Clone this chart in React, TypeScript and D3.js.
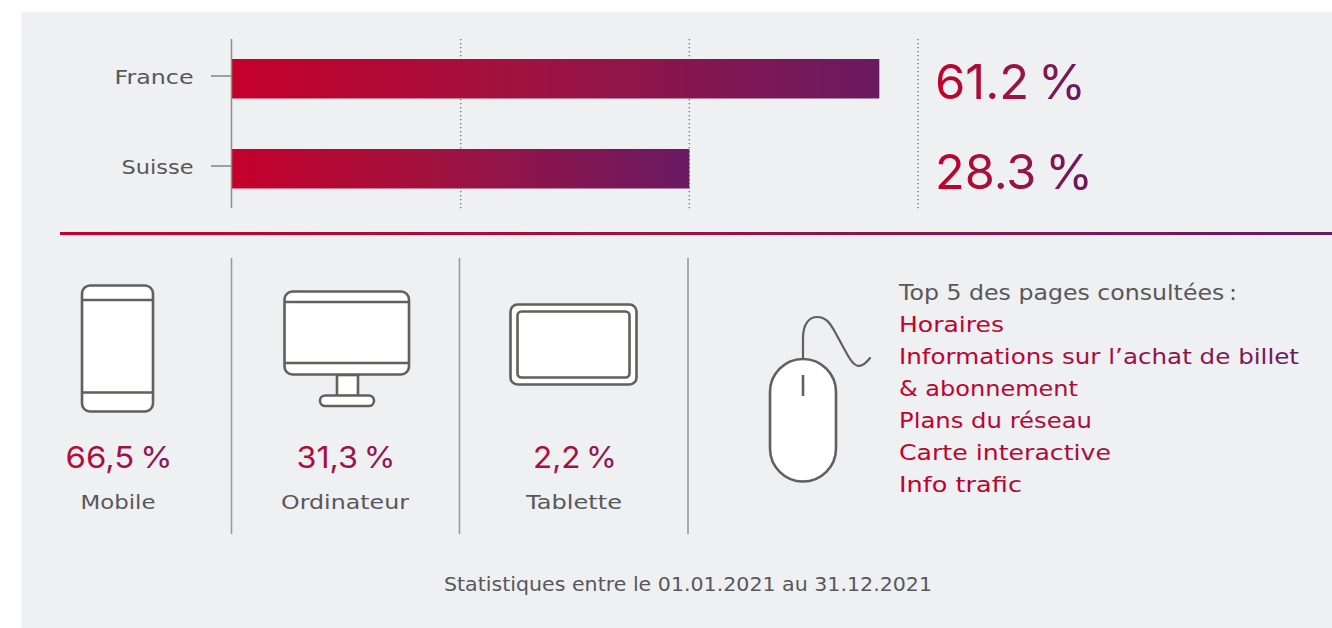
import * as d3 from "d3";

// Audience by country
const countries = ["France", "Suisse"];
const countryShares = [61.2, 28.3];
const shareLabels = ["61.2\u2009%", "28.3\u2009%"];
const axisStart = -51;
const axisEnd = 67.9;
const gridValues = [-11.3, 28.3, 67.9];

// Audience by device
const devices = ["Mobile", "Ordinateur", "Tablette"];
const deviceLabels = ["66,5\u2009%", "31,3\u2009%", "2,2\u2009%"];

// Most visited pages
const pagesTitle = "Top 5 des pages consultées\u2009:";
const pages = [
  "Horaires",
  "Informations sur l’achat de billet",
  "& abonnement",
  "Plans du réseau",
  "Carte interactive",
  "Info trafic",
];
const footnote = "Statistiques entre le 01.01.2021 au 31.12.2021";

const FONT = "'DejaVu Sans', 'Noto Sans', sans-serif";
const NUMERALS = "Inter, 'Noto Sans', sans-serif";
const GREY = "#58585a";
const ICON = "#625f5c";
const RED = "#c4002b";
const MID = "#a0123f";
const PURPLE = "#691a62";

const x = d3.scaleLinear().domain([axisStart, axisEnd]).range([231.5, 918]);
const y = d3.scalePoint<string>().domain(countries).range([59, 149]);
const barHeight = 39.5;

const labelWidths = [79, 72];
const shareWidths = [151, 158];
const deviceCenters = [119, 346, 575];
const deviceLabelWidths = [107, 99, 84];
const deviceNameWidths = [75, 128, 96];
const pageWidths = [105, 400, 179, 193, 212, 123];

const cablePath = d3.path();
cablePath.moveTo(803, 359);
cablePath.lineTo(803, 338);
cablePath.bezierCurveTo(803, 323, 810, 317, 817, 317);
cablePath.bezierCurveTo(826, 317, 830, 323, 835, 332);
cablePath.lineTo(847, 354);
cablePath.bezierCurveTo(854, 367, 860, 371, 870, 358);

export default function App() {
  return (
    <svg
      width={1332}
      height={628}
      viewBox="0 0 1332 628"
      style={{ position: "absolute", left: 0, top: 0, display: "block" }}
      fontFamily={FONT}
    >
      <defs>
        <linearGradient id="brand">
          <stop offset="0" stopColor={RED} />
          <stop offset="0.45" stopColor={MID} />
          <stop offset="1" stopColor={PURPLE} />
        </linearGradient>
        <linearGradient id="pagesFill" gradientUnits="userSpaceOnUse" x1={899} x2={1299} y1={0} y2={0}>
          <stop offset="0" stopColor={RED} />
          <stop offset="0.5" stopColor="#a80d3f" />
          <stop offset="1" stopColor={PURPLE} />
        </linearGradient>
        <linearGradient id="deviceFill">
          <stop offset="0" stopColor="#b80a36" />
          <stop offset="1" stopColor="#851a58" />
        </linearGradient>
      </defs>

      <rect x={21.5} y={12} width={1310.5} height={616} fill="#eff0f2" />

      {/* dotted grid behind the bars */}
      {gridValues.map((v) => (
        <line
          key={v}
          x1={x(v)}
          x2={x(v)}
          y1={39}
          y2={209}
          stroke="#6f6f6f"
          strokeWidth={1.3}
          strokeDasharray="1.3 2.7"
        />
      ))}

      {countries.map((c, i) => {
        const top = y(c) as number;
        return (
          <g key={c}>
            <rect
              x={x(axisStart)}
              y={top}
              width={x(countryShares[i]) - x(axisStart)}
              height={barHeight}
              fill="url(#brand)"
            />
            <line x1={211} x2={231} y1={top + 17} y2={top + 17} stroke="#6a6a6a" strokeWidth={1.2} />
            <text
              x={193.5}
              y={top + 25}
              textAnchor="end"
              fontSize={19.5}
              fill={GREY}
              textLength={labelWidths[i]}
              lengthAdjust="spacingAndGlyphs"
            >
              {c}
            </text>
            <text
              x={935}
              y={top + 40}
              fontFamily={NUMERALS}
              fontSize={48}
              fill="url(#brand)"
              textLength={shareWidths[i]}
              lengthAdjust="spacingAndGlyphs"
            >
              {shareLabels[i]}
            </text>
          </g>
        );
      })}
      <line x1={231.5} x2={231.5} y1={39} y2={208} stroke="#8c8c8c" strokeWidth={1.5} />

      <rect x={60} y={232} width={1272} height={3} fill="url(#brand)" />

      {/* column separators */}
      {[231.5, 459.5, 688].map((sx) => (
        <line key={sx} x1={sx} x2={sx} y1={258} y2={534} stroke="#9b9b9b" strokeWidth={1.6} />
      ))}

      <g fill="#ffffff" stroke={ICON} strokeWidth={2.6}>
        {/* phone */}
        <rect x={82} y={285.5} width={71} height={126} rx={8} />
        <line x1={82} x2={153} y1={300} y2={300} />
        <line x1={82} x2={153} y1={392.5} y2={392.5} />

        {/* monitor */}
        <rect x={337} y={375} width={21} height={21} />
        <rect x={320} y={395.5} width={54} height={10.5} rx={5.25} />
        <rect x={284.5} y={291.5} width={124.5} height={83} rx={8} />
        <line x1={284.5} x2={409} y1={302} y2={302} />
        <line x1={284.5} x2={409} y1={363} y2={363} />

        {/* tablet */}
        <rect x={510.5} y={304.5} width={126} height={80} rx={7} />
        <rect x={517.5} y={311.5} width={112} height={66} rx={4} />

        {/* mouse */}
        <path d={cablePath.toString()} fill="none" strokeWidth={2.2} strokeLinecap="round" />
        <rect x={770} y={359} width={66} height={122.5} rx={33} />
        <line x1={803} x2={803} y1={375} y2={396} />
      </g>

      {devices.map((d, i) => (
        <g key={d} textAnchor="middle">
          <text
            x={deviceCenters[i]}
            y={468}
            fontFamily={NUMERALS}
            fontSize={30}
            fill="url(#deviceFill)"
            textLength={deviceLabelWidths[i]}
            lengthAdjust="spacingAndGlyphs"
          >
            {deviceLabels[i]}
          </text>
          <text
            x={deviceCenters[i] - 1}
            y={509}
            fontSize={19.5}
            fill={GREY}
            textLength={deviceNameWidths[i]}
            lengthAdjust="spacingAndGlyphs"
          >
            {d}
          </text>
        </g>
      ))}

      <text x={899} y={300} fontSize={20.5} fill={GREY} textLength={338} lengthAdjust="spacingAndGlyphs">
        {pagesTitle}
      </text>
      {pages.map((p, i) => (
        <text
          key={p}
          x={899}
          y={332 + i * 32}
          fontSize={20.5}
          fill="url(#pagesFill)"
          textLength={pageWidths[i]}
          lengthAdjust="spacingAndGlyphs"
        >
          {p}
        </text>
      ))}

      <text x={444} y={591} fontSize={19} fill={GREY} textLength={488} lengthAdjust="spacingAndGlyphs">
        {footnote}
      </text>
    </svg>
  );
}
